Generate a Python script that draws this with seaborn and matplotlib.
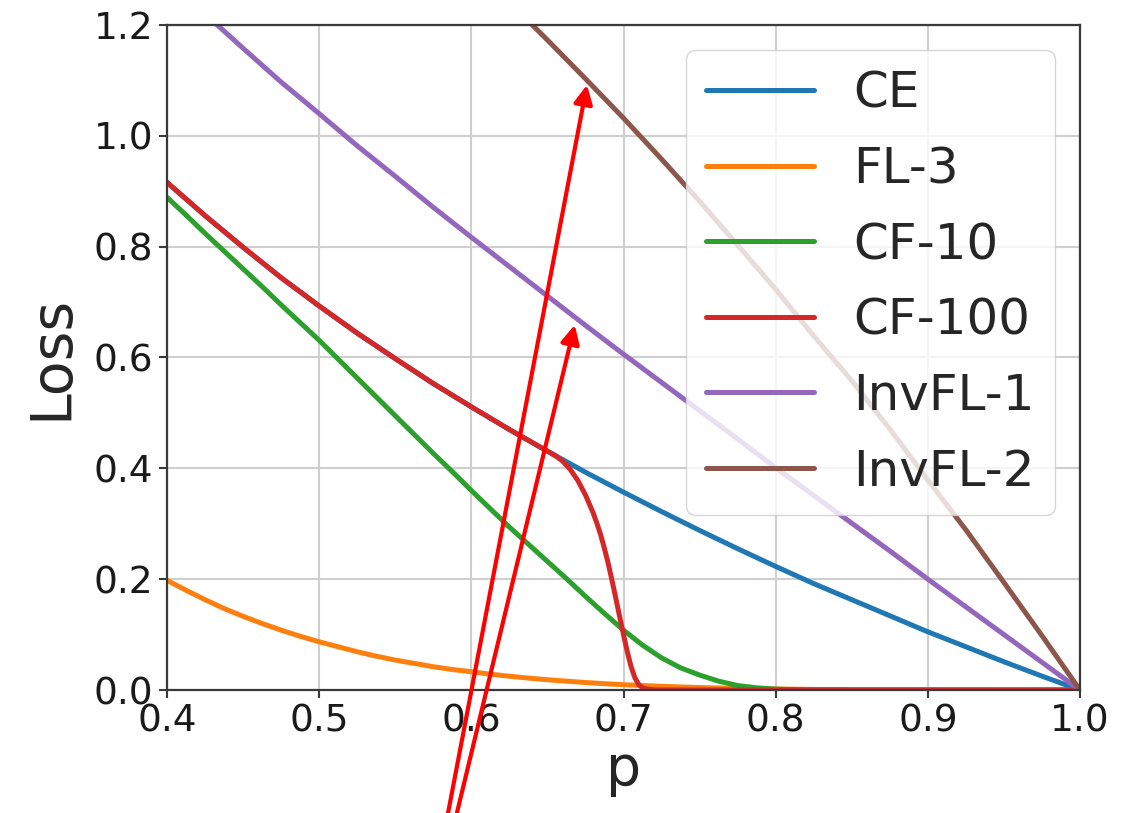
import matplotlib
matplotlib.use("Agg")
import matplotlib.pyplot as plt
import pandas as pd
import seaborn as sns

# Probability of the true class (coarse grid for the gently curving losses)
p = [0.400, 0.425, 0.450, 0.475, 0.500, 0.525, 0.550, 0.575, 0.600, 0.625,
     0.650, 0.675, 0.700, 0.725, 0.750, 0.775, 0.800, 0.825, 0.850, 0.875,
     0.900, 0.925, 0.950, 0.975, 1.000]

ce = [0.916, 0.856, 0.799, 0.744, 0.693, 0.644, 0.598, 0.553, 0.511, 0.470,
      0.431, 0.393, 0.357, 0.322, 0.288, 0.255, 0.223, 0.192, 0.163, 0.134,
      0.105, 0.078, 0.051, 0.025, 0.000]

invfl1 = [1.283, 1.220, 1.158, 1.097, 1.040, 0.982, 0.927, 0.871, 0.817, 0.764,
          0.711, 0.658, 0.606, 0.555, 0.504, 0.453, 0.401, 0.351, 0.301, 0.251,
          0.200, 0.150, 0.100, 0.050, 0.000]

invfl2 = [1.796, 1.738, 1.680, 1.619, 1.559, 1.498, 1.437, 1.372, 1.308, 1.241,
          1.173, 1.103, 1.032, 0.958, 0.882, 0.803, 0.723, 0.639, 0.558, 0.471,
          0.379, 0.289, 0.194, 0.098, 0.000]

# Finer grid for the more strongly curved losses
p_fine = [0.4000, 0.4125, 0.4250, 0.4375, 0.4500, 0.4625, 0.4750, 0.4875,
          0.5000, 0.5125, 0.5250, 0.5375, 0.5500, 0.5625, 0.5750, 0.5875,
          0.6000, 0.6125, 0.6250, 0.6375, 0.6500, 0.6625, 0.6750, 0.6875,
          0.7000, 0.7125, 0.7250, 0.7375, 0.7500, 0.7625, 0.7750, 0.7875,
          0.8000, 0.8125, 0.8250, 0.8375, 0.8500, 0.8750, 0.9000, 0.9500,
          1.0000]

fl3 = [0.198, 0.180, 0.163, 0.147, 0.133, 0.120, 0.108, 0.097,
       0.087, 0.078, 0.069, 0.061, 0.054, 0.048, 0.042, 0.037,
       0.033, 0.0285, 0.0248, 0.0215, 0.0185, 0.0159, 0.0135, 0.0114,
       0.0096, 0.0080, 0.0067, 0.0055, 0.0045, 0.0036, 0.0029, 0.0023,
       0.0018, 0.0014, 0.0010, 0.0008, 0.00055, 0.00026, 0.0001, 0.0,
       0.0]

cf10 = [0.889, 0.857, 0.824, 0.792, 0.760, 0.728, 0.695, 0.663,
        0.631, 0.597, 0.563, 0.529, 0.495, 0.461, 0.427, 0.394,
        0.360, 0.327, 0.294, 0.263, 0.232, 0.201, 0.169, 0.138,
        0.108, 0.081, 0.058, 0.040, 0.027, 0.016, 0.008, 0.004,
        0.0015, 0.0006, 0.0002, 0.0001, 0.0, 0.0, 0.0, 0.0,
        0.0]

# CF-100 follows CE, then drops steeply just below p = 0.71
p_cf100 = [0.400, 0.425, 0.450, 0.475, 0.500, 0.525, 0.550, 0.575, 0.600, 0.625,
           0.650, 0.655, 0.660, 0.665, 0.670, 0.675, 0.680, 0.6825, 0.685, 0.6875,
           0.690, 0.6925, 0.695, 0.6975, 0.700, 0.7025, 0.705, 0.7075, 0.710, 0.7125,
           0.715, 0.720, 0.725, 0.750, 0.800, 0.900, 1.000]
cf100 = [0.916, 0.856, 0.799, 0.744, 0.693, 0.644, 0.598, 0.553, 0.511, 0.470,
         0.431, 0.423, 0.413, 0.398, 0.378, 0.352, 0.320, 0.301, 0.280, 0.255,
         0.228, 0.197, 0.165, 0.132, 0.100, 0.069, 0.042, 0.022, 0.010, 0.004,
         0.002, 0.0003, 0.0001, 0.0, 0.0, 0.0, 0.0]

series_names = ["CE", "FL-3", "CF-10", "CF-100", "InvFL-1", "InvFL-2"]

x_ticks = [0.4, 0.5, 0.6, 0.7, 0.8, 0.9, 1.0]
y_ticks = [0.0, 0.2, 0.4, 0.6, 0.8, 1.0, 1.2]

# Arrow annotations: (target p, target loss) pointing at the InvFL curves
arrow_targets = [(0.676, 1.092), (0.668, 0.659)]
arrow_tails_px = [(444.8, -17.0), (452.8, -17.0)]

df = pd.concat([
    pd.DataFrame({"p": p, "Loss": ce, "loss": "CE"}),
    pd.DataFrame({"p": p_fine, "Loss": fl3, "loss": "FL-3"}),
    pd.DataFrame({"p": p_fine, "Loss": cf10, "loss": "CF-10"}),
    pd.DataFrame({"p": p_cf100, "Loss": cf100, "loss": "CF-100"}),
    pd.DataFrame({"p": p, "Loss": invfl1, "loss": "InvFL-1"}),
    pd.DataFrame({"p": p, "Loss": invfl2, "loss": "InvFL-2"}),
], ignore_index=True)

sns.set_theme(style="ticks")
plt.rcParams["font.family"] = ["DejaVu Sans"]

fig = plt.figure(figsize=(11.3, 8.13), dpi=100)
ax = fig.add_axes([167 / 1130, 1 - 690 / 813, 913 / 1130, 665 / 813])

sns.lineplot(data=df, x="p", y="Loss", hue="loss", hue_order=series_names,
             palette="tab10", linewidth=3.6, estimator=None, ax=ax)

ax.set_xlim(0.4, 1.0)
ax.set_ylim(0.0, 1.2)
ax.set_xticks(x_ticks)
ax.set_yticks(y_ticks)
ax.grid(True, color="#cfcfcf", linewidth=1.5)
ax.set_axisbelow(True)
for side in ax.spines.values():
    side.set_color("#3a3a3a")
    side.set_linewidth(1.6)
ax.tick_params(labelsize=27, length=6, width=1.5, color="#3a3a3a",
               labelcolor="#1a1a1a", pad=4)
ax.set_xlabel("p", fontsize=40, labelpad=2)
ax.set_ylabel("Loss", fontsize=41, labelpad=10)

leg = ax.legend(loc="upper right", fontsize=36, handlelength=2.15,
                labelspacing=0.55, framealpha=0.8, edgecolor="#cccccc",
                fancybox=True)
for line in leg.get_lines():
    line.set_linewidth(3.6)

for (tx, ty), (sx, sy) in zip(arrow_targets, arrow_tails_px):
    ax.annotate("", xy=(tx, ty), xycoords="data",
                xytext=(sx, sy), textcoords="figure pixels",
                arrowprops=dict(arrowstyle="-|>", color="#ff0000", lw=3,
                                mutation_scale=28, shrinkA=0, shrinkB=0),
                annotation_clip=False, zorder=10)

fig.text(3 / 1130, (813 - 702) / 813, "n", ha="right", va="baseline",
         fontsize=32, color="black")

fig.savefig("out.png", dpi=100)
